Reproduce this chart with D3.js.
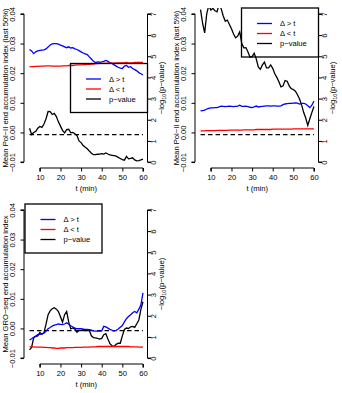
<!DOCTYPE html>
<html>
<head>
<meta charset="utf-8">
<script src="https://cdn.jsdelivr.net/npm/d3@7"></script>
<style>
  body { margin: 0; background: #fff; }
  svg { display: block; font-family: "Liberation Sans", Arial, sans-serif; }
</style>
</head>
<body>
<svg id="chart" width="342" height="393"></svg>
<script>
// time points (min)
const times = [5, 6, 7, 8, 9, 10, 11, 12, 13, 14, 15, 16, 17, 18, 19, 20, 21, 22, 23, 24,
  25, 26, 27, 28, 29, 30, 31, 32, 33, 34, 35, 36, 37, 38, 39, 40, 41, 42, 43, 44,
  45, 46, 47, 48, 49, 50, 51, 52, 53, 54, 55, 56, 57, 58, 59, 60];

const xTicks = [10, 20, 30, 40, 50, 60];
const leftTicks = [-0.01, 0, 0.01, 0.02, 0.03, 0.04];
const rightTicks = [0, 1, 2, 3, 4, 5, 6, 7];
const legendLabels = ['\u0394 > t', '\u0394 < t', 'p\u2212value'];
const pThreshold = 1.3; // -log10(0.05)

// panel 1: Pol-II (last 50%)
const polHalfUp = [0.0280, 0.0275, 0.0266, 0.0272, 0.0275, 0.0277, 0.0278, 0.0279, 0.0282, 0.0288,
  0.0295, 0.0299, 0.0300, 0.0300, 0.0298, 0.0295, 0.0292, 0.0289, 0.0286, 0.0289,
  0.0285, 0.0286, 0.0282, 0.0280, 0.0276, 0.0272, 0.0268, 0.0265, 0.0263, 0.0255,
  0.0248, 0.0240, 0.0236, 0.0238, 0.0237, 0.0238, 0.0240, 0.0243, 0.0240, 0.0236,
  0.0233, 0.0228, 0.0224, 0.0220, 0.0217, 0.0216, 0.0224, 0.0226, 0.0220, 0.0222,
  0.0216, 0.0212, 0.0208, 0.0202, 0.0198, 0.0194];
const polHalfDown = [0.0221, 0.0222, 0.0222, 0.0223, 0.0223, 0.0224, 0.0224, 0.0224, 0.0225, 0.0225,
  0.0225, 0.0224, 0.0224, 0.0224, 0.0224, 0.0224, 0.0225, 0.0225, 0.0225, 0.0226,
  0.0226, 0.0226, 0.0227, 0.0228, 0.0228, 0.0228, 0.0229, 0.0229, 0.0230, 0.0230,
  0.0231, 0.0231, 0.0232, 0.0232, 0.0233, 0.0233, 0.0233, 0.0233, 0.0234, 0.0234,
  0.0234, 0.0234, 0.0235, 0.0235, 0.0235, 0.0235, 0.0235, 0.0236, 0.0235, 0.0235,
  0.0235, 0.0236, 0.0236, 0.0236, 0.0236, 0.0236];
const polHalfP = [1.6, 1.3, 1.4, 1.45, 1.6, 1.68, 1.64, 1.8, 2.05, 2.39,
  2.38, 2.25, 2.3, 2.15, 1.9, 1.7, 1.5, 1.38, 1.53, 1.55,
  1.38, 1.4, 1.34, 1.25, 1.0, 0.92, 0.78, 0.7, 0.63, 0.52,
  0.42, 0.35, 0.35, 0.37, 0.38, 0.4, 0.38, 0.43, 0.38, 0.34,
  0.32, 0.3, 0.28, 0.22, 0.17, 0.12, 0.09, 0.27, 0.15, 0.17,
  0.2, 0.1, 0.06, 0.07, 0.1, 0.14];

// panel 2: Pol-II (last 5%)
const polFiveUp = [0.0073, 0.0074, 0.0075, 0.0079, 0.0081, 0.0083, 0.0083, 0.0084, 0.0084, 0.0086,
  0.0089, 0.0088, 0.0087, 0.0088, 0.0089, 0.0088, 0.0087, 0.0088, 0.0089, 0.0092,
  0.0088, 0.0088, 0.0089, 0.0087, 0.0085, 0.0084, 0.0086, 0.0089, 0.0086, 0.0087,
  0.0088, 0.0089, 0.0090, 0.0090, 0.0089, 0.0090, 0.0090, 0.0089, 0.0089, 0.0090,
  0.0094, 0.0096, 0.0097, 0.0098, 0.0098, 0.0099, 0.0100, 0.0099, 0.0096, 0.0098,
  0.0098, 0.0096, 0.0090, 0.0084, 0.0092, 0.0106];
const polFiveDown = [0.0005, 0.0005, 0.0005, 0.0006, 0.0006, 0.0006, 0.0006, 0.0006, 0.0007, 0.0007,
  0.0007, 0.0007, 0.0007, 0.0007, 0.0008, 0.0008, 0.0008, 0.0008, 0.0008, 0.0008,
  0.0008, 0.0009, 0.0009, 0.0009, 0.0009, 0.0009, 0.0009, 0.0010, 0.0010, 0.0010,
  0.0010, 0.0010, 0.0010, 0.0010, 0.0010, 0.0011, 0.0011, 0.0011, 0.0011, 0.0011,
  0.0011, 0.0011, 0.0011, 0.0011, 0.0011, 0.0012, 0.0012, 0.0012, 0.0012, 0.0012,
  0.0012, 0.0012, 0.0012, 0.0012, 0.0012, 0.0012];
const polFiveP = [7.2, 6.56, 6.1, 7.0, 7.4, 7.19, 7.26, 7.15, 7.1, 7.45,
  7.25, 6.9, 6.65, 6.71, 6.5, 6.3, 6.05, 5.87, 5.95, 6.15,
  5.6, 5.4, 5.41, 5.2, 4.95, 4.98, 5.14, 4.88, 4.5, 4.38,
  4.59, 4.72, 4.45, 4.45, 4.59, 4.43, 4.17, 4.0, 3.8, 3.55,
  3.6, 3.85, 3.82, 3.6, 3.47, 3.43, 3.35, 3.18, 2.98, 2.7,
  2.35, 2.08, 1.73, 2.05, 2.35, 2.63];

// panel 3: GRO-seq
const groUp = [-0.0039, -0.0035, -0.0030, -0.0026, -0.0021, -0.0020, -0.0018, -0.0016, -0.0009, -0.0001,
  0.0003, 0.0008, 0.0011, 0.0013, 0.0015, 0.0014, 0.0013, 0.0015, 0.0019, 0.0014,
  0.0009, 0.0005, 0.0001, -0.0001, -0.0001, -0.0001, -0.0002, -0.0003, -0.0003, -0.0004,
  -0.0006, -0.0008, -0.0009, -0.0009, -0.0009, -0.0008, 0.0007, 0.0005, 0.0001, -0.0003,
  -0.0006, -0.0009, -0.0006, -0.0002, 0.0004, 0.0010, 0.0022, 0.0033, 0.0040, 0.0046,
  0.0053, 0.0057, 0.0053, 0.0065, 0.0080, 0.0120];
const groDown = [-0.0062, -0.0062, -0.0062, -0.0063, -0.0063, -0.0063, -0.0063, -0.0064, -0.0064, -0.0065,
  -0.0065, -0.0066, -0.0066, -0.0067, -0.0067, -0.0066, -0.0066, -0.0066, -0.0065, -0.0065,
  -0.0065, -0.0065, -0.0064, -0.0064, -0.0064, -0.0064, -0.0063, -0.0063, -0.0063, -0.0063,
  -0.0062, -0.0062, -0.0062, -0.0061, -0.0061, -0.0061, -0.0061, -0.0061, -0.0061, -0.0061,
  -0.0061, -0.0061, -0.0061, -0.0061, -0.0061, -0.0061, -0.0061, -0.0061, -0.0061, -0.0062,
  -0.0062, -0.0062, -0.0062, -0.0063, -0.0063, -0.0063];
const groP = [0.39, 0.5, 0.95, 1.03, 1.05, 1.21, 1.13, 1.2, 1.6, 2.05,
  2.23, 2.33, 2.38, 2.31, 2.2, 1.95, 1.7, 2.05, 2.2, 1.7,
  1.38, 1.42, 1.37, 1.22, 1.3, 1.3, 1.35, 1.3, 1.3, 1.3,
  1.05, 0.97, 0.95, 0.93, 0.9, 0.93, 1.1, 1.15, 0.9, 0.68,
  0.58, 0.55, 0.65, 0.7, 0.7, 1.05, 1.35, 1.42, 1.4, 1.48,
  1.5, 1.45, 1.62, 1.8, 2.3, 2.66];

const svg = d3.select('#chart');
const fontSize = '7.6px';
const fmtLeft = (d) => d3.format('.2f')(d).replace('-', '\u2212');

/**
 * Draws one panel: two index series on the left axis and p-values on the right axis.
 */
const drawPanel = ({ id, ox, oy, up, down, pvals, ylabel, legendPos }) => {
  const g = svg.append('g').attr('transform', `translate(${ox},${oy})`);

  // plot region, with R's 4% padding on each range
  const left = 25, right = 147.5, top = 8, bottom = 168;
  const x = d3.scaleLinear().domain([2.8, 62.2]).range([left, right]);
  const yL = d3.scaleLinear().domain([-0.012, 0.042]).range([bottom, top]);
  const yR = d3.scaleLinear().domain([-0.28, 7.28]).range([bottom, top]);

  g.append('clipPath').attr('id', `clip-${id}`)
    .append('rect')
    .attr('x', left).attr('y', top)
    .attr('width', right - left).attr('height', bottom - top);

  const plot = g.append('g').attr('clip-path', `url(#clip-${id})`);

  // dashed significance line
  plot.append('line')
    .attr('x1', x(times[0])).attr('x2', x(times[times.length - 1]))
    .attr('y1', yR(pThreshold)).attr('y2', yR(pThreshold))
    .attr('stroke', 'black').attr('stroke-width', 1.2)
    .attr('stroke-dasharray', '4.5,3');

  const lineL = d3.line().x((d, i) => x(times[i])).y((d) => yL(d));
  const lineR = d3.line().x((d, i) => x(times[i])).y((d) => yR(d));

  plot.append('path').datum(pvals).attr('d', lineR)
    .attr('fill', 'none').attr('stroke', 'black').attr('stroke-width', 1.3);
  plot.append('path').datum(up).attr('d', lineL)
    .attr('fill', 'none').attr('stroke', 'blue').attr('stroke-width', 1.3);
  plot.append('path').datum(down).attr('d', lineL)
    .attr('fill', 'none').attr('stroke', 'red').attr('stroke-width', 1.3);

  // left axis
  const axL = g.append('g').attr('transform', `translate(${left - 1},0)`)
    .call(d3.axisLeft(yL).tickValues(leftTicks).tickFormat(fmtLeft).tickSize(3.5).tickPadding(2));
  axL.select('.domain').attr('d', `M-3.5,${yL(0.04)}H0V${yL(-0.01)}H-3.5`).attr('stroke-width', 1);
  axL.selectAll('.tick text')
    .attr('font-size', fontSize).attr('font-family', null)
    .attr('transform', 'rotate(-90)')
    .attr('x', 0).attr('y', -9).attr('dy', null)
    .style('text-anchor', 'middle');

  // right axis
  const axR = g.append('g').attr('transform', `translate(${right},0)`)
    .call(d3.axisRight(yR).tickValues(rightTicks).tickFormat(d3.format('d')).tickSize(3.5));
  axR.select('.domain').attr('d', `M3.5,${yR(0)}H0V${yR(7)}H3.5`).attr('stroke-width', 1);
  axR.selectAll('.tick text')
    .attr('font-size', fontSize).attr('font-family', null)
    .attr('transform', 'rotate(-90)')
    .attr('x', 0).attr('y', 8.5).attr('dy', null)
    .style('text-anchor', 'middle');

  // bottom axis
  const axB = g.append('g').attr('transform', `translate(0,${bottom})`)
    .call(d3.axisBottom(x).tickValues(xTicks).tickSize(3.5).tickPadding(2));
  axB.select('.domain').attr('d', `M${x(10)},3.5V0H${x(60)}V3.5`).attr('stroke-width', 1);
  axB.selectAll('.tick text')
    .attr('font-size', fontSize).attr('font-family', null)
    .attr('y', 11.5).attr('dy', null);

  // axis titles
  g.append('text')
    .attr('x', (left + right) / 2).attr('y', 190.5)
    .attr('text-anchor', 'middle').attr('font-size', fontSize)
    .text('t (min)');

  g.append('text')
    .attr('transform', `translate(8,${(top + bottom) / 2}) rotate(-90)`)
    .attr('text-anchor', 'middle').attr('font-size', fontSize)
    .text(ylabel);

  const rTitle = g.append('text')
    .attr('transform', `translate(163.5,${(top + bottom) / 2}) rotate(-90)`)
    .attr('text-anchor', 'middle').attr('font-size', fontSize);
  rTitle.append('tspan').text('\u2212log');
  rTitle.append('tspan').attr('font-size', '5.5px').attr('dy', 2).text('10');
  rTitle.append('tspan').attr('dy', -2).text('(p\u2212value)');

  // legend
  const lw = 77, lh = 49;
  let lx, ly;
  if (legendPos === 'right') { lx = right - lw; ly = (top + bottom) / 2 - lh / 2; }
  else if (legendPos === 'topright') { lx = right - lw; ly = top; }
  else { lx = left; ly = top; }

  const leg = g.append('g').attr('transform', `translate(${lx},${ly})`);
  leg.append('rect')
    .attr('width', lw).attr('height', lh)
    .attr('fill', 'none').attr('stroke', 'black').attr('stroke-width', 1.3);

  const colors = ['blue', 'red', 'black'];
  legendLabels.forEach((lab, i) => {
    const yy = 15.5 + i * 10;
    leg.append('line')
      .attr('x1', 15.5).attr('x2', 30.5).attr('y1', yy).attr('y2', yy)
      .attr('stroke', colors[i]).attr('stroke-width', 1.3);
    leg.append('text')
      .attr('x', 38.5).attr('y', yy).attr('dy', '0.35em')
      .attr('font-size', fontSize)
      .text(lab);
  });
};

drawPanel({ id: 'p1', ox: 0, oy: 0, up: polHalfUp, down: polHalfDown, pvals: polHalfP,
  ylabel: 'Mean Pol\u2212II end accumulation index (last 50%)', legendPos: 'right' });
drawPanel({ id: 'p2', ox: 171, oy: 0, up: polFiveUp, down: polFiveDown, pvals: polFiveP,
  ylabel: 'Mean Pol\u2212II end accumulation index (last 5%)', legendPos: 'topright' });
drawPanel({ id: 'p3', ox: 0, oy: 196, up: groUp, down: groDown, pvals: groP,
  ylabel: 'Mean GRO\u2212seq end accumulation index', legendPos: 'topleft' });
</script>
</body>
</html>
